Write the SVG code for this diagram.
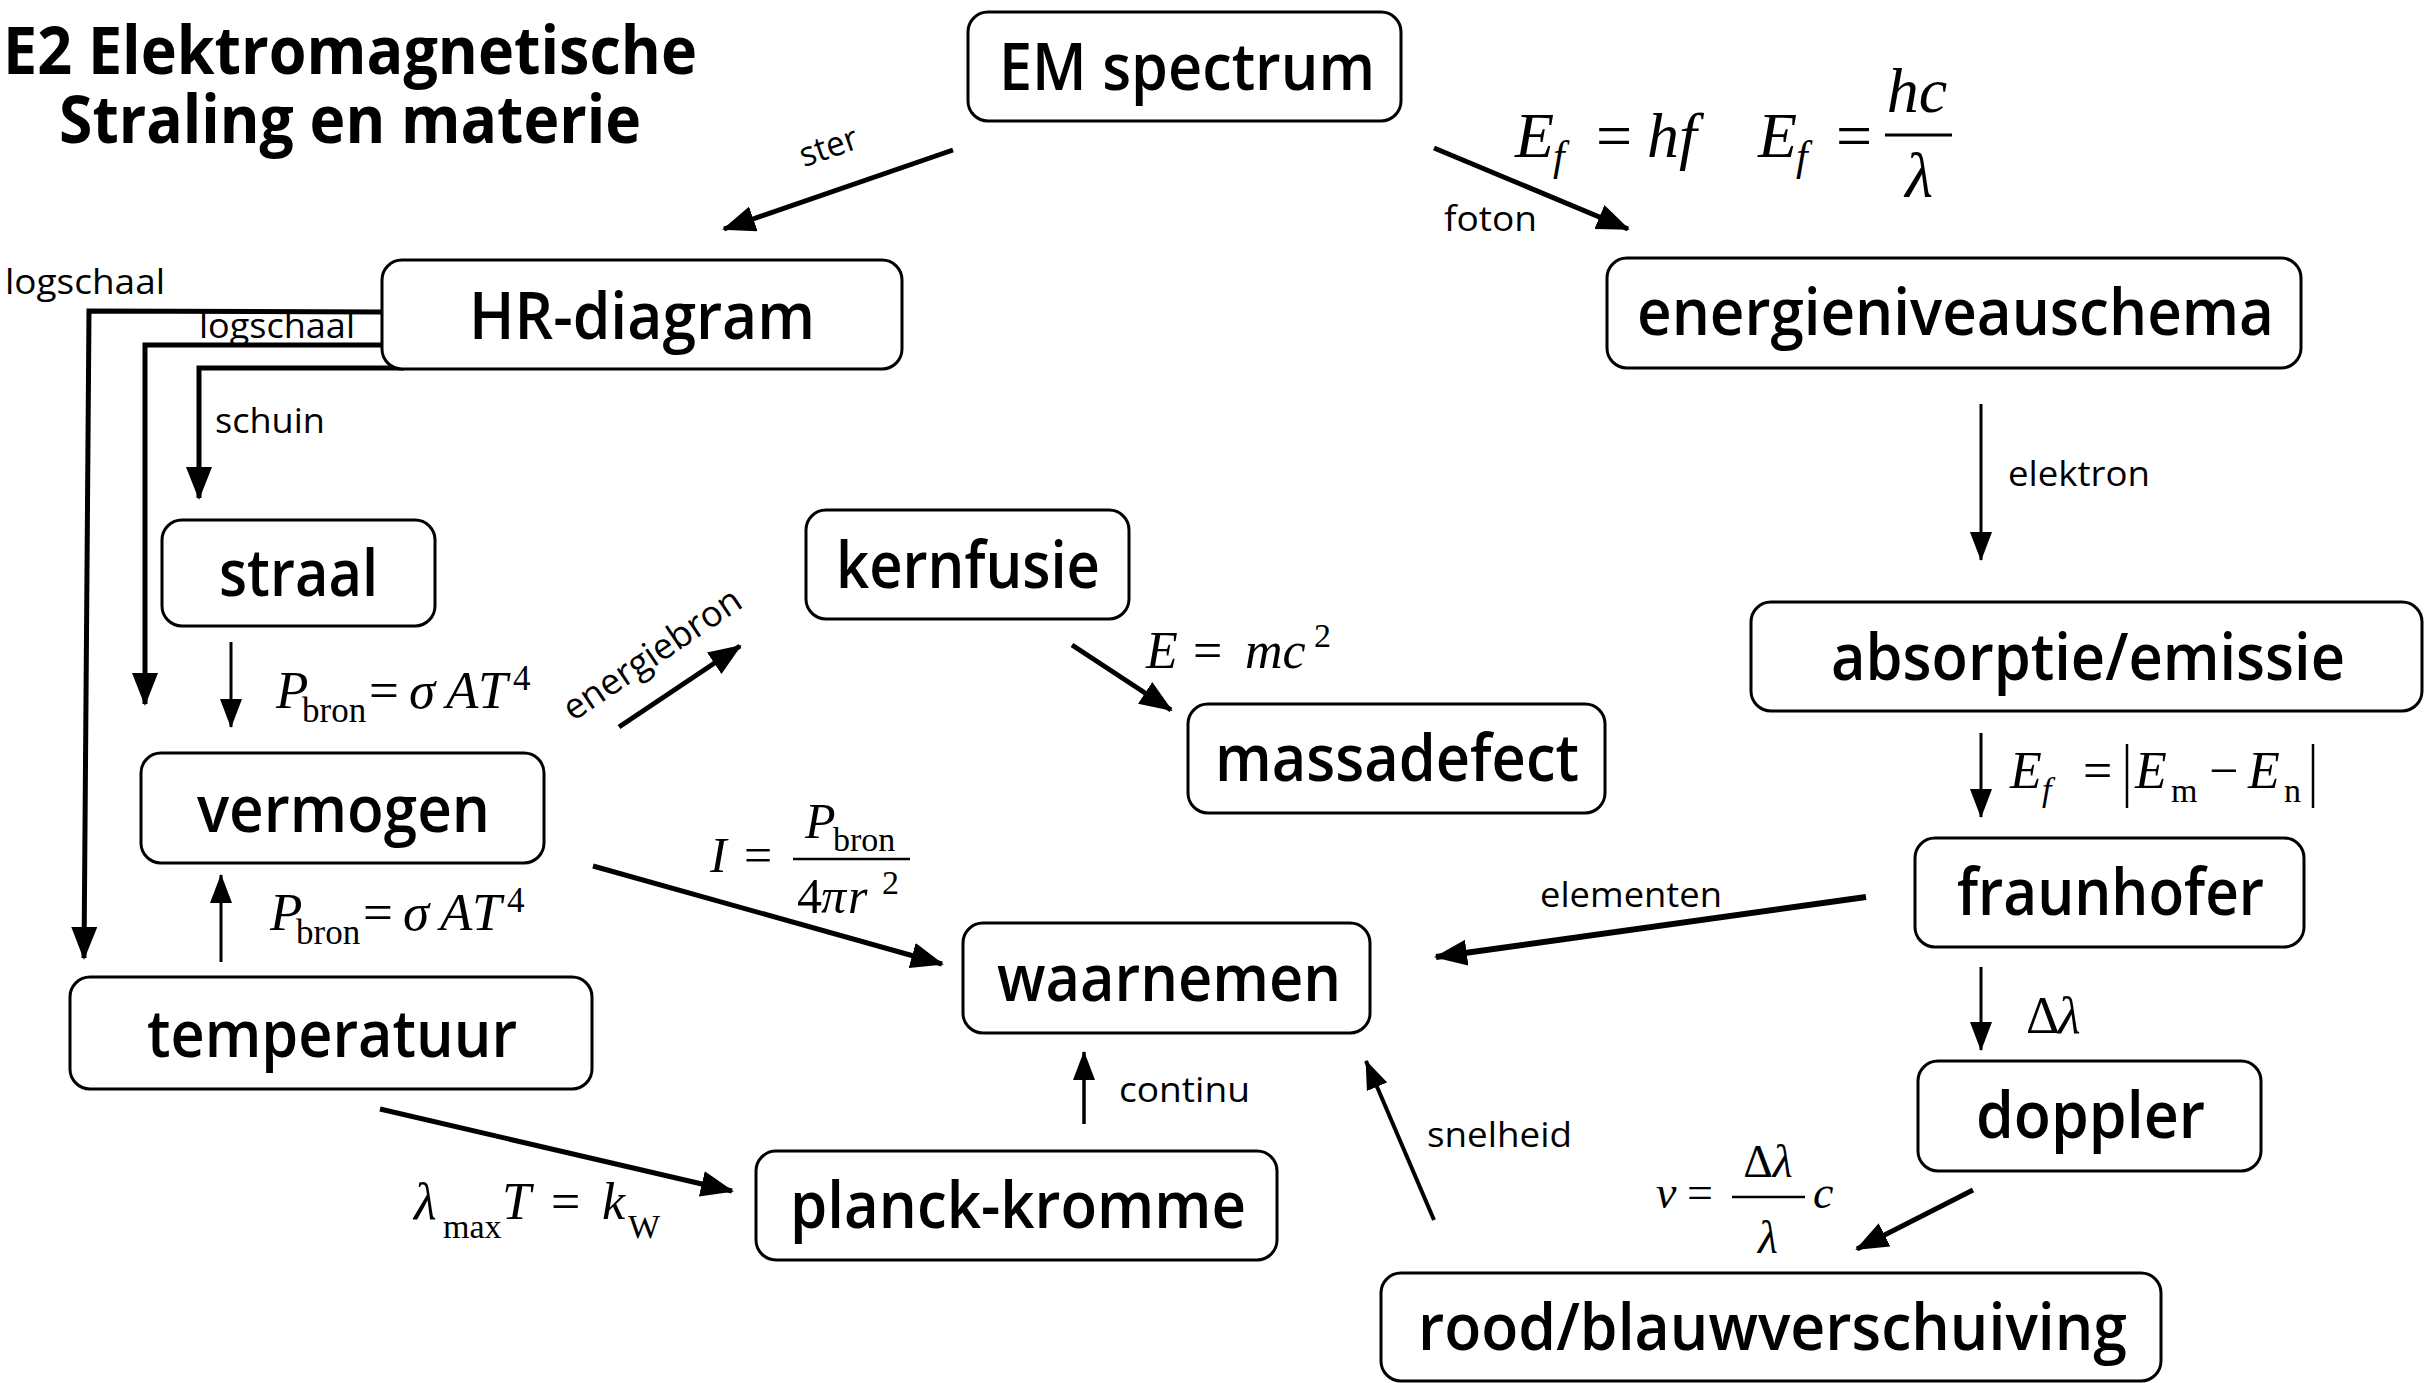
<svg xmlns="http://www.w3.org/2000/svg" width="2425" height="1383" viewBox="0 0 2425 1383">
<style>
.box{fill:#fff;stroke:#000;stroke-width:3}
.nl{font-family:"Open Sans","Liberation Sans",sans-serif;font-weight:600;font-size:66px;fill:#000}
.tt{font-family:"Open Sans","Liberation Sans",sans-serif;font-weight:700;font-size:67px;fill:#000}
.lb{font-family:"Open Sans","Liberation Sans",sans-serif;font-weight:400;font-size:34px;fill:#000}
.m{font-family:"Liberation Serif","Times New Roman",serif;fill:#000}
.i{font-style:italic}
.c{fill:none;stroke:#000;stroke-linejoin:miter}
.k{stroke-width:5;marker-end:url(#ah)}
.t{stroke-width:3;marker-end:url(#as)}
.bar{stroke:#000;stroke-width:2.5}
</style>
<defs>
<marker id="ah" markerUnits="userSpaceOnUse" markerWidth="34" markerHeight="26" refX="31" refY="13" orient="auto"><path d="M0,0 L33,13 L0,26 z" fill="#000"/></marker>
<marker id="as" markerUnits="userSpaceOnUse" markerWidth="30" markerHeight="22" refX="28" refY="11" orient="auto"><path d="M0,0 L29,11 L0,22 z" fill="#000"/></marker>
</defs>
<rect width="2425" height="1383" fill="#fff"/>

<g id="title">
<text class="tt" x="3" y="74" textLength="694" lengthAdjust="spacingAndGlyphs">E2 Elektromagnetische</text>
<text class="tt" x="59" y="143" textLength="582" lengthAdjust="spacingAndGlyphs">Straling en materie</text>
</g>

<g id="connectors">
<line class="c k" x1="953" y1="150" x2="724" y2="229"/>
<line class="c k" x1="1434" y1="148" x2="1628" y2="229"/>
<line class="c t" x1="1981" y1="404" x2="1981" y2="560"/>
<line class="c t" x1="1981" y1="733" x2="1981" y2="817"/>
<line class="c t" x1="1981" y1="967" x2="1981" y2="1050"/>
<line class="c k" style="stroke-width:6" x1="1866" y1="897" x2="1436" y2="957"/>
<line class="c k" x1="593" y1="866" x2="942" y2="964"/>
<line class="c k" x1="380" y1="1109" x2="732" y2="1191"/>
<line class="c t" style="stroke-width:3.5" x1="1084" y1="1124" x2="1084" y2="1052"/>
<line class="c t" style="stroke-width:4" x1="1434" y1="1220" x2="1366" y2="1061"/>
<line class="c k" x1="1973" y1="1190" x2="1857" y2="1249"/>
<line class="c k" x1="1072" y1="645" x2="1171" y2="710"/>
<line class="c k" x1="619" y1="727" x2="740" y2="646"/>
<line class="c t" x1="231" y1="642" x2="231" y2="727"/>
<line class="c t" x1="221" y1="962" x2="221" y2="875"/>
<polyline class="c k" points="382,312 89,311 84,958"/>
<polyline class="c k" points="382,345 145,345 145,704"/>
<polyline class="c k" points="404,368 199,368 199,498"/>

<text class="lb" transform="translate(829,148) rotate(-19)" x="0" y="10" text-anchor="middle" textLength="60" lengthAdjust="spacingAndGlyphs">ster</text>
<text class="lb" x="1444" y="231" textLength="93" lengthAdjust="spacingAndGlyphs">foton</text>
<text class="lb" x="5" y="294" textLength="160" lengthAdjust="spacingAndGlyphs">logschaal</text>
<text class="lb" x="199" y="338" textLength="156" lengthAdjust="spacingAndGlyphs">logschaal</text>
<text class="lb" x="215" y="433" textLength="110" lengthAdjust="spacingAndGlyphs">schuin</text>
<text class="lb" style="font-size:36px" transform="translate(573,722) rotate(-34)" x="0" y="0" textLength="207" lengthAdjust="spacingAndGlyphs">energiebron</text>
<text class="lb" x="2008" y="486" textLength="142" lengthAdjust="spacingAndGlyphs">elektron</text>
<text class="lb" x="1540" y="907" textLength="182" lengthAdjust="spacingAndGlyphs">elementen</text>
<text class="lb" x="1119" y="1102" textLength="131" lengthAdjust="spacingAndGlyphs">continu</text>
<text class="lb" x="1427" y="1147" textLength="145" lengthAdjust="spacingAndGlyphs">snelheid</text>

<g id="f-photon">
<text class="m i" x="1515" y="157" font-size="64">E</text>
<text class="m i" x="1553" y="170" font-size="42">f</text>
<text class="m" x="1596" y="157" font-size="64">=</text>
<text class="m i" x="1647" y="157" font-size="64">hf</text>
<text class="m i" x="1758" y="157" font-size="64">E</text>
<text class="m i" x="1796" y="170" font-size="42">f</text>
<text class="m" x="1836" y="157" font-size="64">=</text>
<line class="bar" x1="1885" y1="135" x2="1952" y2="135" style="stroke-width:3"/>
<text class="m i" x="1917" y="112" font-size="64" text-anchor="middle">hc</text>
<text class="m i" x="1919" y="197" font-size="64" text-anchor="middle">λ</text>
</g>

<g id="f-stefan1">
<text class="m i" x="276" y="708" font-size="53">P</text>
<text class="m" x="302" y="722" font-size="35">bron</text>
<text class="m" x="369" y="708" font-size="53">=</text>
<text class="m i" x="409" y="708" font-size="53">σ</text>
<text class="m i" x="446" y="708" font-size="53">A</text>
<text class="m i" x="478" y="708" font-size="53">T</text>
<text class="m" x="513" y="690" font-size="35">4</text>
</g>
<g id="f-stefan2">
<text class="m i" x="270" y="930" font-size="53">P</text>
<text class="m" x="296" y="944" font-size="35">bron</text>
<text class="m" x="363" y="930" font-size="53">=</text>
<text class="m i" x="403" y="930" font-size="53">σ</text>
<text class="m i" x="440" y="930" font-size="53">A</text>
<text class="m i" x="472" y="930" font-size="53">T</text>
<text class="m" x="507" y="912" font-size="35">4</text>
</g>
<g id="f-intensity">
<text class="m i" x="710" y="872" font-size="50">I</text>
<text class="m" x="744" y="872" font-size="50">=</text>
<line class="bar" x1="793" y1="859" x2="910" y2="859"/>
<text class="m i" x="805" y="838" font-size="50">P</text>
<text class="m" x="833" y="851" font-size="34">bron</text>
<text class="m" x="797" y="913" font-size="50">4</text>
<text class="m i" x="821" y="913" font-size="50">π</text>
<text class="m i" x="848" y="913" font-size="50">r</text>
<text class="m" x="882" y="894" font-size="34">2</text>
</g>
<g id="f-mass">
<text class="m i" x="1146" y="668" font-size="52">E</text>
<text class="m" x="1193" y="668" font-size="52">=</text>
<text class="m i" x="1245" y="668" font-size="52">mc</text>
<text class="m" x="1314" y="647" font-size="34">2</text>
</g>
<g id="f-levels">
<text class="m i" x="2010" y="788" font-size="52">E</text>
<text class="m i" x="2042" y="801" font-size="34">f</text>
<text class="m" x="2083" y="788" font-size="52">=</text>
<line class="bar" x1="2127" y1="744" x2="2127" y2="808"/>
<text class="m i" x="2135" y="788" font-size="52">E</text>
<text class="m" x="2171" y="802" font-size="34">m</text>
<text class="m" x="2209" y="788" font-size="52">−</text>
<text class="m i" x="2248" y="788" font-size="52">E</text>
<text class="m" x="2284" y="802" font-size="34">n</text>
<line class="bar" x1="2313" y1="744" x2="2313" y2="808"/>
</g>
<g id="f-dlambda">
<text class="m" x="2026" y="1033" font-size="52">Δ</text>
<text class="m i" x="2058" y="1033" font-size="52">λ</text>
</g>
<g id="f-wien">
<text class="m i" x="414" y="1219" font-size="52">λ</text>
<text class="m" x="443" y="1238" font-size="34">max</text>
<text class="m i" x="502" y="1219" font-size="52">T</text>
<text class="m" x="551" y="1219" font-size="52">=</text>
<text class="m i" x="602" y="1219" font-size="52">k</text>
<text class="m" x="628" y="1238" font-size="34">W</text>
</g>
<g id="f-doppler">
<text class="m i" x="1656" y="1208" font-size="46">v</text>
<text class="m" x="1687" y="1208" font-size="46">=</text>
<line class="bar" x1="1732" y1="1197" x2="1805" y2="1197"/>
<text class="m" x="1768" y="1177" font-size="46" text-anchor="middle">Δ<tspan class="i">λ</tspan></text>
<text class="m i" x="1768" y="1253" font-size="46" text-anchor="middle">λ</text>
<text class="m i" x="1813" y="1208" font-size="46">c</text>
</g>
</g>

<g id="node-em-spectrum"><rect class="box" x="968" y="12" width="433" height="109" rx="20"/><text class="nl" x="999" y="90" textLength="376" lengthAdjust="spacingAndGlyphs">EM spectrum</text></g>
<g id="node-hr-diagram"><rect class="box" x="382" y="260" width="520" height="109" rx="20"/><text class="nl" x="469" y="339" textLength="346" lengthAdjust="spacingAndGlyphs">HR-diagram</text></g>
<g id="node-energieniveauschema"><rect class="box" x="1607" y="258" width="694" height="110" rx="20"/><text class="nl" x="1637" y="335" textLength="637" lengthAdjust="spacingAndGlyphs">energieniveauschema</text></g>
<g id="node-straal"><rect class="box" x="162" y="520" width="273" height="106" rx="20"/><text class="nl" x="219" y="596" textLength="159" lengthAdjust="spacingAndGlyphs">straal</text></g>
<g id="node-kernfusie"><rect class="box" x="806" y="510" width="323" height="109" rx="20"/><text class="nl" x="836" y="588" textLength="264" lengthAdjust="spacingAndGlyphs">kernfusie</text></g>
<g id="node-absorptie-emissie"><rect class="box" x="1751" y="602" width="671" height="109" rx="20"/><text class="nl" x="1831" y="680" textLength="514" lengthAdjust="spacingAndGlyphs">absorptie/emissie</text></g>
<g id="node-vermogen"><rect class="box" x="141" y="753" width="403" height="110" rx="20"/><text class="nl" x="197" y="832" textLength="293" lengthAdjust="spacingAndGlyphs">vermogen</text></g>
<g id="node-massadefect"><rect class="box" x="1188" y="704" width="417" height="109" rx="20"/><text class="nl" x="1215" y="781" textLength="364" lengthAdjust="spacingAndGlyphs">massadefect</text></g>
<g id="node-fraunhofer"><rect class="box" x="1915" y="838" width="389" height="109" rx="20"/><text class="nl" x="1957" y="915" textLength="307" lengthAdjust="spacingAndGlyphs">fraunhofer</text></g>
<g id="node-waarnemen"><rect class="box" x="963" y="923" width="407" height="110" rx="20"/><text class="nl" x="997" y="1001" textLength="344" lengthAdjust="spacingAndGlyphs">waarnemen</text></g>
<g id="node-temperatuur"><rect class="box" x="70" y="977" width="522" height="112" rx="20"/><text class="nl" x="147" y="1057" textLength="370" lengthAdjust="spacingAndGlyphs">temperatuur</text></g>
<g id="node-doppler"><rect class="box" x="1918" y="1061" width="343" height="110" rx="20"/><text class="nl" x="1976" y="1138" textLength="229" lengthAdjust="spacingAndGlyphs">doppler</text></g>
<g id="node-planck-kromme"><rect class="box" x="756" y="1151" width="521" height="109" rx="20"/><text class="nl" x="790" y="1228" textLength="456" lengthAdjust="spacingAndGlyphs">planck-kromme</text></g>
<g id="node-rood-blauwverschuiving"><rect class="box" x="1381" y="1273" width="780" height="108" rx="20"/><text class="nl" x="1418" y="1350" textLength="709" lengthAdjust="spacingAndGlyphs">rood/blauwverschuiving</text></g>
</svg>
